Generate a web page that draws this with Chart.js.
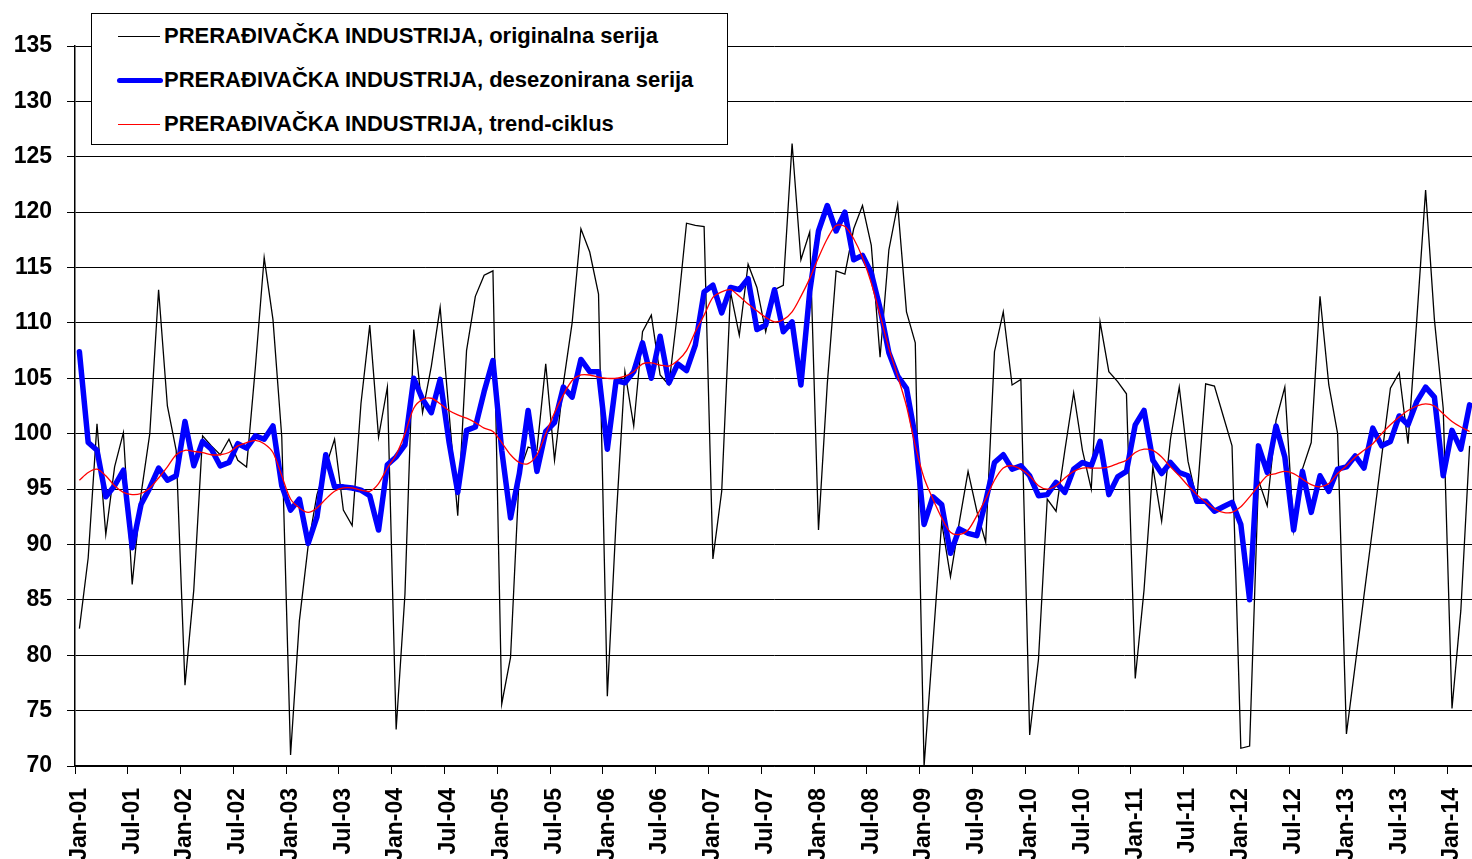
<!DOCTYPE html>
<html>
<head>
<meta charset="utf-8">
<script src="https://cdn.jsdelivr.net/npm/chart.js@4.4.1/dist/chart.umd.min.js"></script>
<style>
  html, body { margin: 0; padding: 0; background: #fff; overflow: hidden; }
  #wrap { position: relative; width: 1480px; height: 859px; }
  #legend {
    position: absolute; left: 91px; top: 13px; width: 635px; height: 130px;
    border: 1px solid #000; background: #fff;
    font: bold 22px "Liberation Sans", Arial, sans-serif; color: #000;
  }
  .item { position: absolute; left: 0; height: 30px; width: 100%; }
  .item .sample { position: absolute; left: 26px; width: 42px; top: 50%; }
  .item .txt { position: absolute; left: 72px; top: 50%; transform: translateY(-52%); white-space: nowrap; }
</style>
</head>
<body>
<div id="wrap">
  <canvas id="lineChart" width="1480" height="859"></canvas>
  <div id="legend">
    <div class="item" style="top:8px"><span class="sample" style="border-top:1px solid #000;margin-top:-1px"></span><span class="txt">PRERAĐIVAČKA INDUSTRIJA, originalna serija</span></div>
    <div class="item" style="top:52px"><span class="sample" style="height:5px;margin-top:-3px;background:#0000ff;border-radius:3px;left:25px;width:46px"></span><span class="txt">PRERAĐIVAČKA INDUSTRIJA, desezonirana serija</span></div>
    <div class="item" style="top:96px"><span class="sample" style="border-top:1px solid #ff0000;margin-top:-1px"></span><span class="txt">PRERAĐIVAČKA INDUSTRIJA, trend-ciklus</span></div>
  </div>
</div>
<script>
// months Jan-01 .. Mar-14
var monthNames = ["Jan","Feb","Mar","Apr","May","Jun","Jul","Aug","Sep","Oct","Nov","Dec"];
var years = ["01","02","03","04","05","06","07","08","09","10","11","12","13","14"];
var categories = [];
years.forEach(function (y) {
  monthNames.forEach(function (m) { categories.push(m + "-" + y); });
});
categories = categories.slice(0, 159);

var originalSeries = [
  82.4, 88.8, 100.9, 90.9, 97.0, 100.1, 86.4, 94.5, 100.0, 113.0, 102.5, 98.5,
  77.3, 85.9, 99.8, 98.9, 98.1, 99.5, 97.6, 97.0, 106.0, 115.9, 110.3, 99.7,
  71.0, 83.1, 89.9, 94.5, 97.0, 99.5, 93.1, 91.7, 102.7, 109.8, 99.7, 104.2,
  73.3, 85.5, 109.4, 101.9, 106.1, 111.4, 102.0, 92.6, 107.5, 112.4, 114.3, 114.7,
  75.6, 79.8, 96.5, 98.8, 98.5, 106.3, 97.6, 104.5, 110.0, 118.5, 116.4, 112.6,
  76.3, 92.2, 105.6, 100.7, 109.2, 110.7, 105.3, 104.4, 111.1, 119.0, 118.8, 118.7,
  88.7, 94.8, 112.8, 108.9, 115.3, 113.2, 109.2, 113.0, 113.4, 126.2, 115.7, 118.2,
  91.3, 104.5, 114.7, 114.4, 118.5, 120.6, 117.0, 106.9, 116.6, 120.7, 111.0, 108.2,
  70.0, 81.0, 92.0, 87.1, 92.0, 96.6, 93.0, 90.2, 107.4, 111.0, 104.4, 104.9,
  72.8, 79.6, 94.1, 93.0, 98.5, 103.7, 98.5, 95.0, 110.1, 105.6, 104.7, 103.6,
  77.9, 85.9, 97.0, 92.1, 99.5, 104.2, 97.5, 94.0, 104.5, 104.3, 101.6, 98.9,
  71.6, 71.8, 95.8, 93.5, 101.2, 104.2, 91.3, 96.8, 99.2, 112.4, 104.4, 100.0,
  72.9, 79.1, 85.4, 91.6, 97.9, 104.1, 105.5, 99.1, 110.3, 122.0, 110.3, 102.3,
  75.2, 84.0, 98.9
];

var deseasonSeries = [
  107.4, 99.2, 98.5, 94.3, 95.3, 96.7, 89.7, 93.6, 95.1, 96.9, 95.8, 96.2,
  101.1, 97.1, 99.3, 98.6, 97.1, 97.4, 99.1, 98.7, 99.8, 99.5, 100.7, 95.3,
  93.1, 94.1, 90.1, 92.5, 98.1, 95.2, 95.2, 95.1, 94.9, 94.4, 91.3, 97.2,
  97.9, 99.0, 105.0, 103.1, 101.9, 104.9, 99.3, 94.7, 100.3, 100.6, 103.8, 106.6,
  98.5, 92.4, 96.4, 102.1, 96.6, 100.2, 101.0, 104.2, 103.3, 106.7, 105.6, 105.6,
  98.6, 104.8, 104.6, 105.6, 108.2, 105.0, 108.8, 104.6, 106.3, 105.7, 108.0, 112.8,
  113.4, 110.9, 113.2, 113.0, 114.0, 109.4, 109.8, 113.0, 109.2, 110.1, 104.4, 112.8,
  118.3, 120.6, 118.3, 120.0, 115.7, 116.1, 114.5, 111.3, 107.3, 105.2, 104.1, 99.7,
  91.8, 94.3, 93.6, 89.2, 91.4, 91.0, 90.8, 93.9, 97.4, 98.1, 96.8, 97.1,
  96.2, 94.4, 94.5, 95.6, 94.7, 96.8, 97.4, 97.1, 99.3, 94.5, 96.1, 96.6,
  100.8, 102.1, 97.6, 96.4, 97.4, 96.5, 96.2, 93.9, 93.9, 93.0, 93.4, 93.8,
  91.8, 85.0, 98.9, 96.5, 100.7, 97.9, 91.3, 96.6, 92.9, 96.2, 94.8, 96.8,
  97.0, 98.0, 96.9, 100.5, 98.9, 99.3, 101.6, 100.8, 102.9, 104.2, 103.3, 96.2,
  100.3, 98.6, 102.6
];

var trendSeries = [
  95.8, 96.5, 96.8, 96.2, 95.3, 94.7, 94.5, 94.6, 95.1, 96.0, 97.0, 98.1,
  98.5, 98.4, 98.3, 98.1, 98.1, 98.3, 98.9, 99.2, 99.4, 99.1, 98.3, 96.2,
  94.1, 93.3, 92.9, 93.3, 94.1, 94.8, 95.1, 95.1, 94.9, 94.8, 95.5, 96.9,
  98.1, 100.0, 102.3, 103.1, 103.2, 102.7, 102.1, 101.7, 101.4, 101.0, 100.5, 100.2,
  99.2, 98.1, 97.4, 97.3, 98.1, 100.0, 101.9, 103.5, 104.8, 105.3, 105.3, 105.1,
  105.0, 105.0, 105.2, 105.6, 106.3, 106.4, 106.2, 106.1, 106.6, 107.5, 109.2, 110.7,
  112.3, 112.8, 113.0, 112.4, 111.7, 111.1, 110.5, 110.1, 110.3, 111.0, 112.4, 114.0,
  115.9, 117.6, 118.8, 118.7, 117.6, 115.9, 113.6, 110.7, 107.7, 105.2, 102.5, 98.9,
  96.0, 94.1, 92.4, 91.1, 90.9, 91.3, 92.6, 94.1, 95.8, 96.9, 97.1, 96.8,
  96.2, 95.3, 95.0, 95.3, 96.0, 96.6, 96.9, 96.9, 96.9, 97.0, 97.3, 97.6,
  98.3, 98.6, 98.5, 97.9, 97.0, 96.2, 95.3, 94.5, 93.8, 93.2, 92.9, 92.9,
  93.4, 94.3, 95.3, 96.2, 96.4, 96.6, 96.4, 95.9, 95.4, 95.2, 95.5, 96.4,
  97.1, 97.9, 98.5, 99.1, 100.0, 100.8, 101.5, 102.1, 102.5, 102.7, 102.5, 101.8,
  101.1, 100.6, 100.2
];

var yMin = 70, yMax = 135, yStep = 5;

var axisFont = { family: "'Liberation Sans', Arial, sans-serif", size: 23, weight: "bold" };

var canvasLine = document.getElementById("lineChart");

const data = {
  labels: categories,
  datasets: [
    {
      label: "PRERAĐIVAČKA INDUSTRIJA, originalna serija",
      data: originalSeries,
      borderColor: "#000000",
      borderWidth: 1.3,
      pointRadius: 0,
      tension: 0,
      order: 3
    },
    {
      label: "PRERAĐIVAČKA INDUSTRIJA, desezonirana serija",
      data: deseasonSeries,
      borderColor: "#0000ff",
      borderWidth: 5.5,
      borderJoinStyle: "round",
      borderCapStyle: "round",
      pointRadius: 0,
      tension: 0,
      order: 2
    },
    {
      label: "PRERAĐIVAČKA INDUSTRIJA, trend-ciklus",
      data: trendSeries,
      borderColor: "#ff0000",
      borderWidth: 1.3,
      pointRadius: 0,
      tension: 0.3,
      order: 1
    }
  ]
};

const configLine = {
  type: "line",
  data: data,
  options: {
    responsive: false,
    animation: false,
    layout: { padding: { top: 46, right: 6, left: 0, bottom: 0 } },
    plugins: {
      legend: { display: false },
      tooltip: { enabled: false }
    },
    scales: {
      x: {
        offset: true,
        grid: {
          offset: true,
          drawOnChartArea: false,
          drawTicks: true,
          tickLength: 8,
          color: function (ctx) { return ctx.index % 6 === 0 ? "#000" : "rgba(0,0,0,0)"; },
          lineWidth: 1
        },
        border: { display: true, color: "#000", width: 1.5 },
        ticks: {
          autoSkip: false,
          maxRotation: 90,
          minRotation: 90,
          padding: 14,
          color: "#000",
          font: axisFont,
          callback: function (val, idx) { return idx % 6 === 0 ? this.getLabelForValue(val) : ""; }
        },
        afterFit: function (scale) {
          scale.height = 93;
          scale.paddingLeft = 0;
          scale.paddingRight = 0;
        }
      },
      y: {
        min: yMin,
        max: yMax,
        grid: { color: "#000", lineWidth: 1, tickLength: 8 },
        border: { display: true, color: "#000", width: 1.5 },
        ticks: { stepSize: yStep, padding: 15, color: "#000", font: axisFont },
        afterFit: function (scale) { scale.width = 75; }
      }
    }
  }
};

var LineChart = new Chart(canvasLine, configLine);
</script>
</body>
</html>
